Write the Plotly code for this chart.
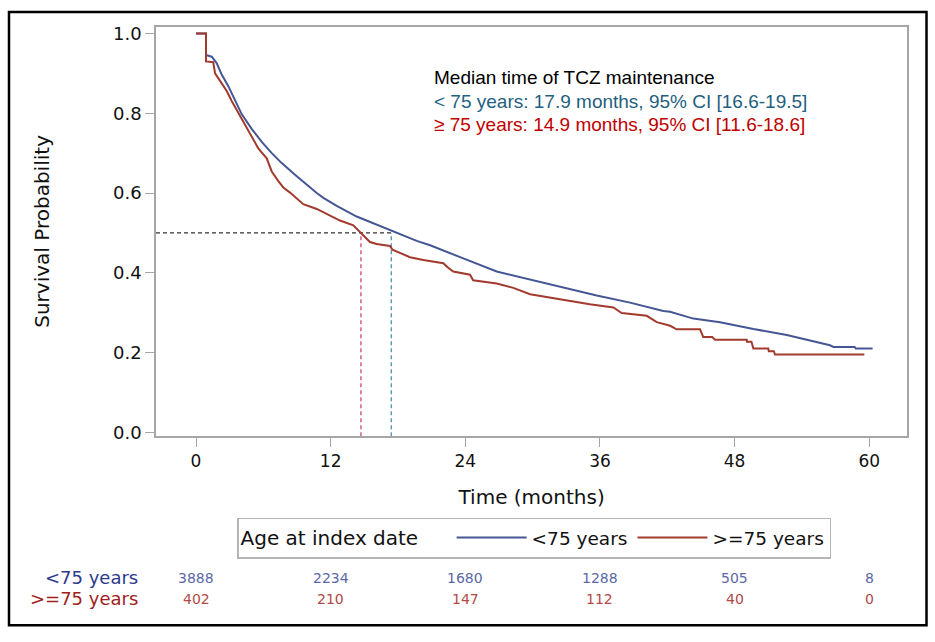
import plotly.graph_objects as go

# ---------------- data ----------------
young_t = [0, 0.89, 0.89, 1.40, 1.84, 2.29, 2.88, 3.48, 4.07, 4.96, 5.86, 6.75, 7.64, 8.82, 9.27,
           10.76, 11.35, 12.54, 14.32, 17.29, 19.67, 20.86, 22.64, 23.82, 26.8, 29.77, 32.74,
           35.71, 38.68, 41.65, 42.25, 44.32, 46.7, 49.67, 52.65, 55.6, 56.5, 56.8, 58.7, 58.8, 60.3]
young_s = [1.0, 1.0, 0.946, 0.942, 0.926, 0.897, 0.868, 0.831, 0.798, 0.761, 0.728, 0.70, 0.675, 0.646, 0.635,
           0.600, 0.588, 0.568, 0.541, 0.507, 0.48, 0.469, 0.448, 0.436, 0.403, 0.383, 0.362,
           0.343, 0.325, 0.304, 0.302, 0.285, 0.276, 0.259, 0.244, 0.225, 0.218, 0.214, 0.214, 0.21, 0.21]

old_t = [0, 0.89, 0.89, 1.54, 1.7, 2.14, 2.74, 3.18, 3.77, 4.37, 4.96, 5.55, 6.30, 6.75, 7.34, 7.78,
         8.38, 9.56, 10.76, 11.65, 12.83, 14.02, 14.62, 15.5, 16.1, 17.29, 17.5, 17.9, 19.07, 20.26,
         22.04, 22.5, 22.93, 24.42, 24.7, 26.8, 28.28, 29.77, 32.74, 35.1, 37.2, 37.94, 40.17, 41.06,
         42.25, 42.84, 44.92, 45.2, 46.0, 46.26, 49.08, 49.1, 49.5, 49.67, 51.0, 51.05, 51.5,
         51.6, 59.56]
old_s = [1.0, 1.0, 0.93, 0.928, 0.90, 0.881, 0.856, 0.831, 0.802, 0.77, 0.741, 0.712, 0.687, 0.654, 0.63, 0.614,
         0.601, 0.572, 0.56, 0.547, 0.531, 0.519, 0.502, 0.477, 0.472, 0.467, 0.458, 0.453, 0.439, 0.432,
         0.424, 0.412, 0.403, 0.395, 0.381, 0.373, 0.362, 0.346, 0.332, 0.321, 0.313, 0.299, 0.292, 0.276,
         0.267, 0.258, 0.258, 0.239, 0.239, 0.232, 0.232, 0.227, 0.227, 0.21, 0.21, 0.203, 0.203,
         0.195, 0.195]

median_level = 0.5
median_young = 17.4   # position of the dashed line as drawn
median_old = 14.7

risk_times = [0, 12, 24, 36, 48, 60]
risk_young = [3888, 2234, 1680, 1288, 505, 8]
risk_old = [402, 210, 147, 112, 40, 0]

x_ticks = [0, 12, 24, 36, 48, 60]
y_ticks = [0.0, 0.2, 0.4, 0.6, 0.8, 1.0]

name_young = "<75 years"
name_old = ">=75 years"
legend_title = "Age at index date"
note_lines = ["Median time of TCZ maintenance",
              "< 75 years: 17.9 months, 95% CI [16.6-19.5]",
              "\u2265 75 years: 14.9 months, 95% CI [11.6-18.6]"]

# ---------------- styling ----------------
W, H = 935, 642
BLUE = "#445694"
RED = "#A23A2E"
FONT = "DejaVu Sans"
X_RANGE = [-3.565, 63.39]
Y_RANGE = [-0.0099, 1.0173]


def px_x(p):
    return p / W


def px_y(p):
    return (H - p) / H


fig = go.Figure()

# median reference lines
fig.add_trace(go.Scatter(x=[X_RANGE[0], median_young], y=[median_level, median_level], mode="lines",
                         line=dict(color="#333333", width=1.2, dash="4px,3px"),
                         showlegend=False, hoverinfo="skip"))
fig.add_trace(go.Scatter(x=[median_old, median_old], y=[Y_RANGE[0], median_level], mode="lines",
                         line=dict(color="#C8385A", width=1.2, dash="4px,3px"),
                         showlegend=False, hoverinfo="skip"))
fig.add_trace(go.Scatter(x=[median_young, median_young], y=[Y_RANGE[0], median_level], mode="lines",
                         line=dict(color="#3A8A9A", width=1.2, dash="4px,3px"),
                         showlegend=False, hoverinfo="skip"))

# survival curves
fig.add_trace(go.Scatter(x=young_t, y=young_s, mode="lines", name=name_young,
                         line=dict(color=BLUE, width=2)))
fig.add_trace(go.Scatter(x=old_t, y=old_s, mode="lines", name=name_old,
                         line=dict(color=RED, width=2)))

axis_common = dict(showgrid=False, zeroline=False, showline=True, linecolor="#A6A6A6", linewidth=1.6,
                   mirror=True, ticks="outside", ticklen=9, tickwidth=1.4, tickcolor="#A6A6A6")

fig.update_xaxes(range=X_RANGE, tickvals=x_ticks, domain=[px_x(156), px_x(907.3)],
                 tickfont=dict(family=FONT, size=17, color="#111111"),
                 title=dict(text="Time (months)", font=dict(family=FONT, size=20, color="#111111"),
                            standoff=20),
                 **axis_common)
fig.update_yaxes(range=Y_RANGE, tickvals=y_ticks, tickformat=".1f", domain=[px_y(439), px_y(23)],
                 tickfont=dict(family=FONT, size=18, color="#111111"),
                 title=dict(text="Survival Probability", font=dict(family=FONT, size=20, color="#111111"),
                            standoff=58),
                 **axis_common)

annotations = []
# median note
note_colors = ["#000000", "#1F5F80", "#C00000"]
note_y = [75, 99, 122]
for txt, col, yy in zip(note_lines, note_colors, note_y):
    annotations.append(dict(text=txt, xref="paper", yref="paper", x=px_x(432), y=px_y(yy),
                            xanchor="left", yanchor="middle", showarrow=False,
                            font=dict(family="Liberation Sans", size=19, color=col)))

# at-risk table
annotations.append(dict(text=name_young, xref="paper", yref="paper", x=px_x(140), y=px_y(583),
                        xanchor="right", yanchor="middle", showarrow=False,
                        font=dict(family=FONT, size=18, color="#2B3A8C")))
annotations.append(dict(text=name_old, xref="paper", yref="paper", x=px_x(140), y=px_y(604),
                        xanchor="right", yanchor="middle", showarrow=False,
                        font=dict(family=FONT, size=18, color="#A02020")))
for t, a, b in zip(risk_times, risk_young, risk_old):
    annotations.append(dict(text=str(a), xref="x", yref="paper", x=t, y=px_y(583),
                            xanchor="center", yanchor="middle", showarrow=False,
                            font=dict(family=FONT, size=14, color="#5B68A6")))
    annotations.append(dict(text=str(b), xref="x", yref="paper", x=t, y=px_y(604),
                            xanchor="center", yanchor="middle", showarrow=False,
                            font=dict(family=FONT, size=14, color="#B04A48")))

shapes = [dict(type="rect", xref="paper", yref="paper", x0=px_x(9), x1=px_x(926.5),
               y0=px_y(631), y1=px_y(8), line=dict(color="#000000", width=2.5))]

fig.update_layout(
    width=W, height=H,
    margin=dict(l=0, r=0, t=0, b=0),
    paper_bgcolor="white", plot_bgcolor="white",
    font=dict(family=FONT, color="#111111"),
    showlegend=True,
    legend=dict(orientation="h", x=px_x(534), xanchor="center", y=px_y(542.5), yanchor="middle",
                bordercolor="#B4B4B4", borderwidth=1.5, bgcolor="white",
                font=dict(family=FONT, size=18.5, color="#111111"),
                title=dict(text=legend_title + "    ", side="left",
                           font=dict(family=FONT, size=20, color="#111111")),
                itemwidth=70, tracegroupgap=0),
    annotations=annotations,
    shapes=shapes,
)

fig.write_html("out.html", config={"displayModeBar": False},
               post_script="document.body.style.margin='0px';")
